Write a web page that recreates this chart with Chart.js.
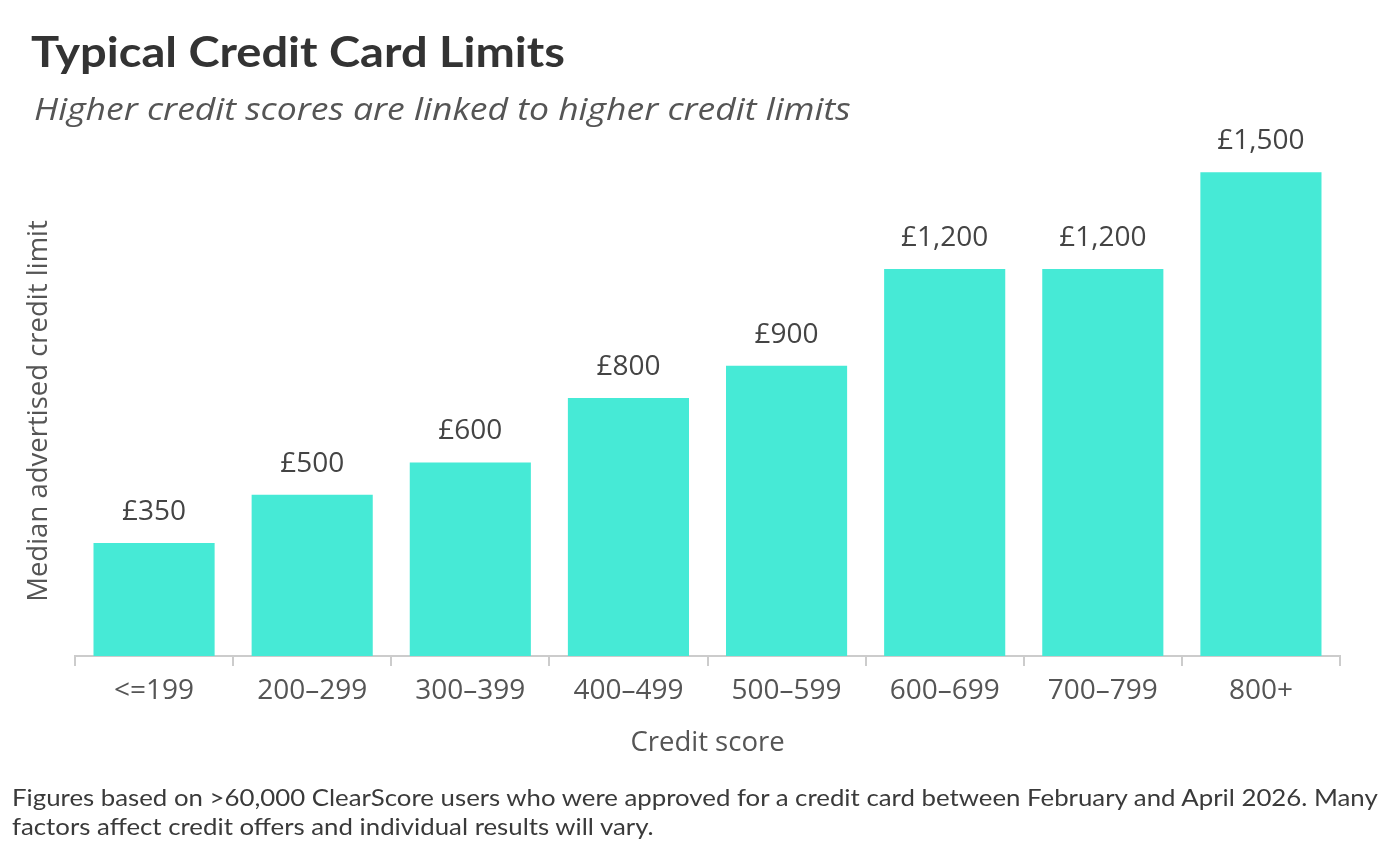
<!DOCTYPE html>
<html>
<head>
<meta charset="utf-8">
<script src="https://cdn.jsdelivr.net/npm/chart.js@4.4.1/dist/chart.umd.min.js"></script>
<style>
  html, body { margin: 0; padding: 0; background: #ffffff; }
  body { width: 1400px; height: 852px; position: relative; overflow: hidden; }
  #wrap { position: absolute; left: 0; top: 0; width: 1400px; height: 852px; }
  .t { position: absolute; white-space: nowrap; transform-origin: 0 0; }
  #title { left: 31px; top: 26px; font-family: Lato, sans-serif; font-size: 42px; font-weight: 700; color: #333333; transform: scaleX(1.12); }
  #subtitle { left: 34px; top: 87px; font-family: "Open Sans", sans-serif; font-size: 31px; font-style: italic; color: #555555; transform: scaleX(1.146); }
  #note { left: 12px; top: 782px; font-family: Lato, sans-serif; font-size: 24px; color: #3a3a3a; line-height: 29px; transform: scaleX(1.075); }
</style>
</head>
<body>
<div id="wrap"><canvas id="c" width="1400" height="852"></canvas></div>
<div class="t" id="title">Typical Credit Card Limits</div>
<div class="t" id="subtitle">Higher credit scores are linked to higher credit limits</div>
<div class="t" id="note">Figures based on &gt;60,000 ClearScore users who were approved for a credit card between February and April 2026. Many<br>factors affect credit offers and individual results will vary.</div>
<script>
const categories = ["<=199", "200–299", "300–399", "400–499", "500–599", "600–699", "700–799", "800+"];
const limits = [350, 500, 600, 800, 900, 1200, 1200, 1500];
const valueLabels = ["£350", "£500", "£600", "£800", "£900", "£1,200", "£1,200", "£1,500"];
const xTitle = "Credit score";
const yTitle = "Median advertised credit limit";

const valueLabelPlugin = {
  id: 'valueLabels',
  afterDatasetsDraw(chart) {
    const ctx = chart.ctx;
    const meta = chart.getDatasetMeta(0);
    ctx.save();
    ctx.font = '28px "Open Sans", sans-serif';
    ctx.fillStyle = '#444444';
    ctx.textAlign = 'center';
    ctx.textBaseline = 'middle';
    meta.data.forEach((bar, i) => {
      ctx.fillText(valueLabels[i], bar.x, bar.y - 31);
    });
    ctx.restore();
  }
};

new Chart(document.getElementById('c'), {
  type: 'bar',
  data: {
    labels: categories,
    datasets: [{
      data: limits,
      backgroundColor: '#46EAD6',
      borderWidth: 0,
      barPercentage: 0.766,
      categoryPercentage: 1.0
    }]
  },
  options: {
    responsive: false,
    animation: false,
    events: [],
    layout: { padding: { left: 0, right: 60, top: 166, bottom: 86 } },
    plugins: { legend: { display: false }, tooltip: { enabled: false } },
    scales: {
      x: {
        afterFit(scale) { scale.height = 110; },
        grid: { display: true, drawOnChartArea: false, drawTicks: true, tickLength: 10, color: '#cccccc', lineWidth: 2 },
        border: { display: true, color: '#cccccc', width: 2 },
        ticks: { color: '#555555', font: { family: '"Open Sans", sans-serif', size: 28 }, padding: 8, maxRotation: 0 },
        title: { display: true, text: xTitle, color: '#555555', font: { family: '"Open Sans", sans-serif', size: 27.5 }, padding: { top: 0, bottom: 6 } }
      },
      y: {
        min: 0,
        max: 1519,
        afterFit(scale) { scale.width = 75; },
        grid: { display: false },
        border: { display: false },
        ticks: { display: false },
        title: { display: true, text: yTitle, color: '#555555', font: { family: '"Open Sans", sans-serif', size: 27.5 }, padding: { top: 23, bottom: 0 } }
      }
    }
  },
  plugins: [valueLabelPlugin]
});
</script>
</body>
</html>
